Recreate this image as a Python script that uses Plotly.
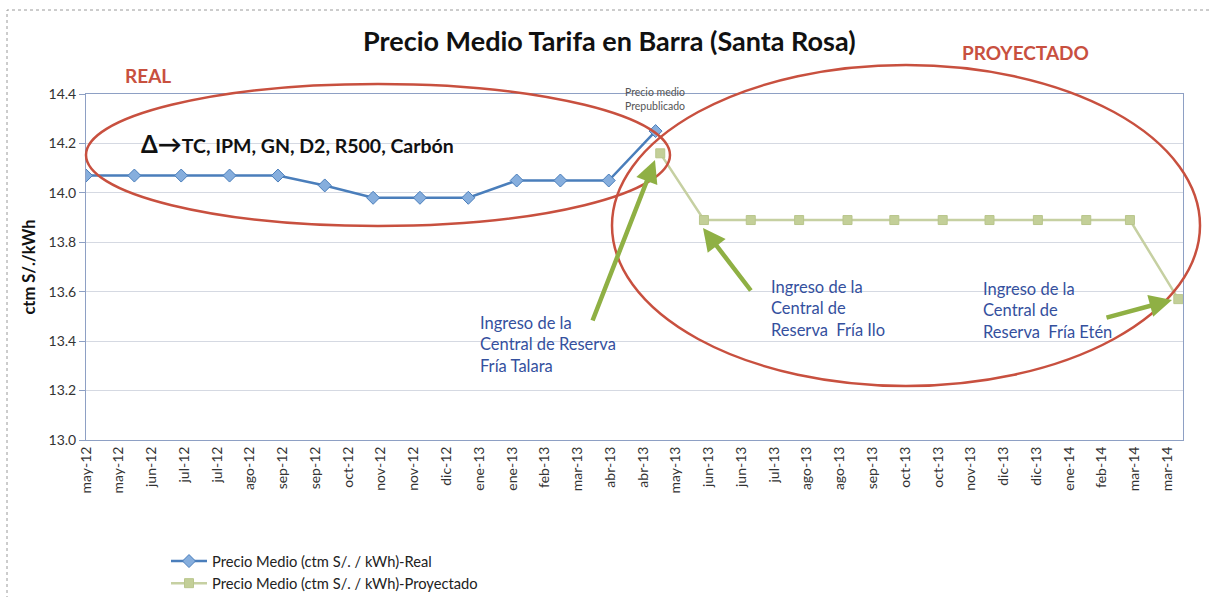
import plotly.graph_objects as go
from datetime import date, timedelta

# ---------------- data ----------------
real_dates = ["2012-05-01", "2012-06-01", "2012-07-01", "2012-08-01", "2012-09-01",
              "2012-10-01", "2012-11-01", "2012-12-01", "2013-01-01", "2013-02-01",
              "2013-03-01", "2013-04-01", "2013-05-01"]
real_values = [14.07, 14.07, 14.07, 14.07, 14.07, 14.03, 13.98, 13.98, 13.98,
               14.05, 14.05, 14.05, 14.25]

proj_dates = ["2013-05-04", "2013-06-01", "2013-07-01", "2013-08-01", "2013-09-01",
              "2013-10-01", "2013-11-01", "2013-12-01", "2014-01-01", "2014-02-01",
              "2014-03-01", "2014-04-01"]
proj_values = [14.16, 13.89, 13.89, 13.89, 13.89, 13.89, 13.89, 13.89, 13.89,
               13.89, 13.89, 13.57]

tick_labels = ["may-12", "may-12", "jun-12", "jul-12", "jul-12", "ago-12", "sep-12",
               "sep-12", "oct-12", "nov-12", "nov-12", "dic-12", "ene-13", "ene-13",
               "feb-13", "mar-13", "abr-13", "abr-13", "may-13", "jun-13", "jun-13",
               "jul-13", "ago-13", "ago-13", "sep-13", "oct-13", "oct-13", "nov-13",
               "dic-13", "dic-13", "ene-14", "feb-14", "mar-14", "mar-14"]

# tick positions: Excel date axis, major unit 21 days from first date
tick_vals = [(date(2012, 5, 1) + timedelta(days=21 * i)).isoformat()
             for i in range(len(tick_labels))]

# ---------------- layout geometry ----------------
W, H = 1209, 597
L, R, T, B = 86, 1183, 94, 440


def px(x):
    return (x - L) / (R - L)


def py(y):
    return (B - y) / (B - T)


RED = "#C8503F"
ARROW = "#8FB044"
BLUE_TXT = "#34509E"
FONT = "Lato"

fig = go.Figure()
fig.add_trace(go.Scatter(
    x=real_dates, y=real_values, mode="lines+markers",
    name="Precio Medio (ctm S/. / kWh)-Real",
    line=dict(color="#4A7EBB", width=2.5),
    marker=dict(symbol="diamond", size=10, color="#86AEDD",
                line=dict(color="#4A7EBB", width=1)),
))
fig.add_trace(go.Scatter(
    x=proj_dates, y=proj_values, mode="lines+markers",
    name="Precio Medio (ctm S/. / kWh)-Proyectado",
    line=dict(color="#C6D0A2", width=2.5),
    marker=dict(symbol="square", size=9, color="#C3CF98",
                line=dict(color="#B9C68C", width=1)),
))

shapes = [
    # outer chart border (dotted)
    dict(type="rect", xref="paper", yref="paper",
         x0=px(7), x1=px(1220), y0=py(610), y1=py(10),
         line=dict(color="#9A9A9A", width=1, dash="dot"), layer="below"),
    # REAL ellipse
    dict(type="circle", xref="paper", yref="paper",
         x0=px(86), x1=px(670), y0=py(226), y1=py(84),
         line=dict(color=RED, width=2.5)),
    # PROYECTADO ellipse
    dict(type="circle", xref="paper", yref="paper",
         x0=px(612), x1=px(1200), y0=py(386), y1=py(65),
         line=dict(color=RED, width=2.5)),
]

annotations = [
    dict(text="<b>REAL</b>", x=px(148), y=py(76), font=dict(size=19, color=RED)),
    dict(text="<b>PROYECTADO</b>", x=px(1025), y=py(52), font=dict(size=19, color=RED)),
    dict(text="<b><span style='font-size:24px'>Δ→</span>TC, IPM, GN, D2, R500, Carbón</b>",
         x=px(139), y=py(143), xanchor="left", font=dict(size=19.5, color="#111111")),
    dict(text="Precio medio<br>Prepublicado", x=px(655), y=py(99),
         font=dict(size=10.5, color="#555555")),
    dict(text="Ingreso de la<br>Central de Reserva<br>Fría Talara", x=px(478), y=py(311),
         xanchor="left", yanchor="top", align="left",
         font=dict(size=16.5, color=BLUE_TXT)),
    dict(text="Ingreso de la<br>Central de<br>Reserva  Fría Ilo", x=px(769), y=py(275),
         xanchor="left", yanchor="top", align="left",
         font=dict(size=16.5, color=BLUE_TXT)),
    dict(text="Ingreso de la<br>Central de<br>Reserva  Fría Etén", x=px(981), y=py(277),
         xanchor="left", yanchor="top", align="left",
         font=dict(size=16.5, color=BLUE_TXT)),
]
for a in annotations:
    a.setdefault("xanchor", "center")
    a.setdefault("yanchor", "middle")
    a.update(xref="paper", yref="paper", showarrow=False)
    a["font"]["family"] = FONT

# green arrows (head, tail) in pixels
arrows = [((655, 160), (592, 322)), ((703, 228), (752, 292)), ((1172, 300), (1105, 318))]
for (hx, hy), (tx, ty) in arrows:
    annotations.append(dict(
        xref="paper", yref="paper", x=px(hx), y=py(hy),
        axref="pixel", ayref="pixel", ax=tx - hx, ay=ty - hy,
        text="", showarrow=True, arrowhead=2, arrowsize=1.0, arrowwidth=4.5,
        arrowcolor=ARROW, standoff=0,
    ))

fig.update_layout(
    width=W, height=H,
    margin=dict(l=L, r=W - R, t=T, b=H - B, autoexpand=False),
    paper_bgcolor="white", plot_bgcolor="white",
    font=dict(family=FONT, color="#333333"),
    title=dict(text="<b>Precio Medio Tarifa en Barra (Santa Rosa)</b>",
               x=0.504, xanchor="center", y=1 - 42 / H, yanchor="middle",
               font=dict(size=27, color="#111111", family=FONT)),
    xaxis=dict(type="date", range=["2012-05-01", "2014-04-04"],
               tickmode="array", tickvals=tick_vals, ticktext=tick_labels,
               tickangle=-90, tickfont=dict(size=14, color="#333333"),
               showgrid=False, showline=True, linecolor="#8EA0C4", linewidth=1,
               mirror=True, ticks="", zeroline=False, automargin=False),
    yaxis=dict(range=[13.0, 14.4], dtick=0.2, tickformat=".1f",
               tickfont=dict(size=14, color="#333333"),
               title=dict(text="<b>ctm S/./kWh</b>", font=dict(size=16.5, color="#111111"),
                          standoff=8),
               showgrid=True, gridcolor="#D5D9E2", gridwidth=1,
               showline=True, linecolor="#8EA0C4", linewidth=1, mirror=True,
               ticks="outside", ticklen=6, tickcolor="#8EA0C4", zeroline=False,
               automargin=False),
    legend=dict(x=px(166), y=py(545), xanchor="left", yanchor="top",
                bgcolor="rgba(0,0,0,0)", font=dict(size=14.7, color="#222222"),
                tracegroupgap=4, itemwidth=36),
    showlegend=True,
    shapes=shapes,
    annotations=annotations,
)

fig.write_html("out.html",
               config={"displayModeBar": False},
               post_script="document.body.style.margin='0';"
                           "document.body.style.overflow='hidden';")
